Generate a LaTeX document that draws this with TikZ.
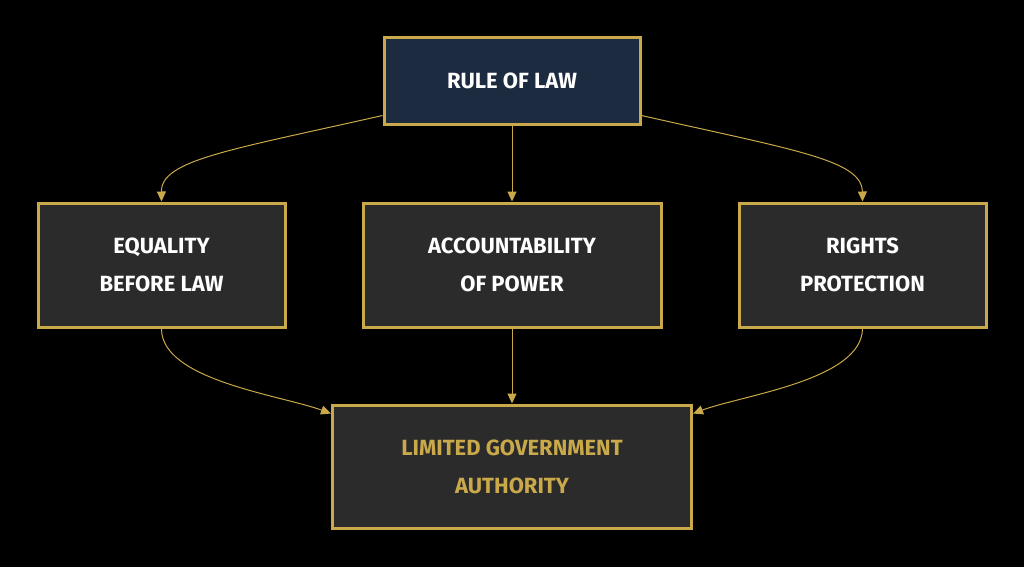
\documentclass[tikz,border=0pt]{standalone}
\usepackage{fontspec}
\setmainfont{Fira Sans}
\usetikzlibrary{arrows.meta}
\definecolor{gold}{HTML}{C9A94A}
\definecolor{navy}{HTML}{1C2B40}
\definecolor{boxbg}{HTML}{2B2B2B}
\begin{document}
\begin{tikzpicture}[x=1pt,y=-1pt,
  box/.style={draw=gold,line width=3pt,fill=boxbg,text=white,align=center,inner sep=0pt,font=\bfseries\fontsize{22}{38}\selectfont},
  conn/.style={draw=gold,line width=1pt,-{Triangle[length=10pt,width=9pt]}}]
\fill[black] (0,0) rectangle (1024,567);
\useasboundingbox (0,0) rectangle (1024,567);
\node[box,fill=navy,minimum width=256pt,minimum height=86pt] (top) at (512,81) {RULE OF LAW};
\node[box,minimum width=247pt,minimum height=124pt] (eq) at (161.5,265) {EQUALITY\\BEFORE LAW};
\node[box,minimum width=298pt,minimum height=124pt] (acc) at (512,265) {ACCOUNTABILITY\\OF POWER};
\node[box,minimum width=247pt,minimum height=124pt] (rig) at (862.5,265) {RIGHTS\\PROTECTION};
\node[box,text=gold,minimum width=359pt,minimum height=123pt] (bot) at (512,466.5) {LIMITED GOVERNMENT\\AUTHORITY};
\draw[conn] ([yshift=10pt]top.south west) .. controls (230,150) and (161,160) .. (eq.north);
\draw[conn] (top.south) -- (acc.north);
\draw[conn] ([yshift=10pt]top.south east) .. controls (794,150) and (862,160) .. (rig.north);
\draw[conn] (eq.south) .. controls (161,380) and (280,395) .. ([yshift=-10pt]bot.north west);
\draw[conn] (acc.south) -- (bot.north);
\draw[conn] (rig.south) .. controls (862,380) and (743,395) .. ([yshift=-10pt]bot.north east);
\end{tikzpicture}
\end{document}
